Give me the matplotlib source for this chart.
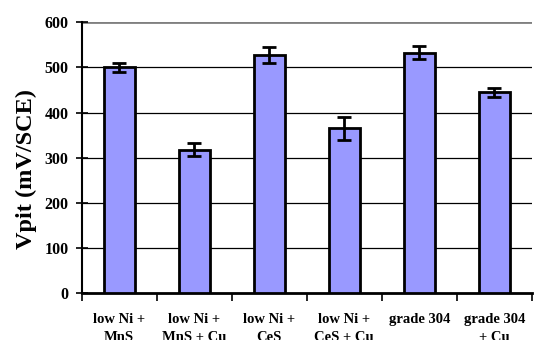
import numpy as np
import matplotlib
matplotlib.use('Agg')
import matplotlib.pyplot as plt

categories = ['low Ni +\nMnS', 'low Ni +\nMnS + Cu', 'low Ni +\nCeS',
              'low Ni +\nCeS + Cu', 'grade 304', 'grade 304\n+ Cu']
vpit = [500, 318, 527, 365, 533, 445]
vpit_err = [10, 14, 18, 25, 14, 10]
yticks = [0, 100, 200, 300, 400, 500, 600]

plt.rcParams['font.family'] = 'Liberation Serif'
plt.rcParams['font.weight'] = 'bold'

fig = plt.figure(figsize=(5.35, 3.4), dpi=100)
ax = fig.add_axes([81.7 / 535, 46.7 / 340, 450 / 535, 271 / 340])

x = np.arange(len(categories))
ax.bar(x, vpit, width=0.41, color='#9999ff', edgecolor='black', linewidth=2, zorder=3)
ax.errorbar(x, vpit, yerr=vpit_err, fmt='none', ecolor='black', elinewidth=2,
            capsize=5, capthick=2, zorder=4)

ax.set_xlim(-0.5, len(categories) - 0.5)
ax.set_ylim(0, 600)
ax.set_yticks(yticks)
ax.set_yticklabels([str(v) for v in yticks], fontsize=11.5, fontweight='bold')

# category labels centred, tick marks between categories
ax.set_xticks(x)
ax.set_xticklabels(categories, fontsize=10.5, fontweight='bold', linespacing=1.55,
                   va='top')
ax.set_xticks(np.arange(-0.5, len(categories)), minor=True)
ax.tick_params(axis='x', which='major', length=0, pad=14)
ax.tick_params(axis='x', which='minor', length=6, width=1.2, direction='out')
ax.tick_params(axis='y', length=9, width=1.2, direction='inout', pad=5)

for v in yticks[1:-1]:
    ax.axhline(v, color='black', linewidth=0.9, zorder=1)
ax.axhline(600, color='#808080', linewidth=2, zorder=1)

ax.spines['top'].set_visible(False)
ax.spines['right'].set_visible(False)
ax.spines['left'].set_linewidth(1.5)
ax.spines['bottom'].set_linewidth(2)

ax.set_ylabel('Vpit (mV/SCE)', fontsize=17.5, fontweight='bold', labelpad=5)
ax.yaxis.label.set_y(0.46)

fig.savefig('out.png', dpi=100)
